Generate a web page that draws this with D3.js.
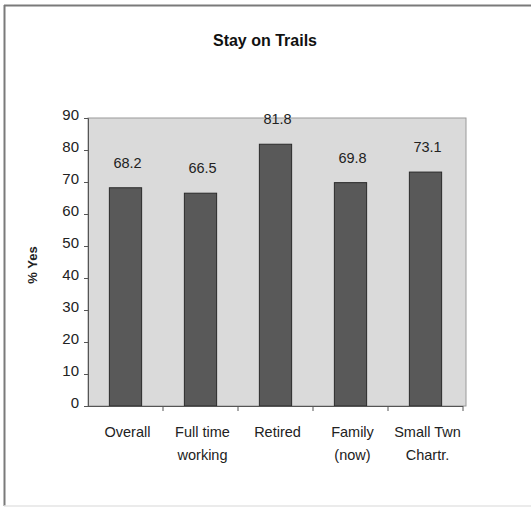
<!DOCTYPE html>
<html>
<head>
<meta charset="utf-8">
<script src="https://cdn.jsdelivr.net/npm/d3@7"></script>
<style>
  html, body { margin: 0; padding: 0; background: #fff; }
  svg { display: block; font-family: "Liberation Sans", Arial, sans-serif; }
</style>
</head>
<body>
<svg id="chart" width="531" height="508"></svg>
<script>
// Survey result: share answering "yes" to staying on trails, by group
const categories = [["Overall"], ["Full time", "working"], ["Retired"], ["Family", "(now)"], ["Small Twn", "Chartr."]];
const values = [68.2, 66.5, 81.8, 69.8, 73.1];
const yTicks = [0, 10, 20, 30, 40, 50, 60, 70, 80, 90];
const title = "Stay on Trails";
const yTitle = "% Yes";

const svg = d3.select("#chart");
const W = 531, H = 508;
const plot = { left: 88, right: 463, top: 118, bottom: 406 };

// outer frame
svg.append("rect").attr("x", 0).attr("y", 0).attr("width", W).attr("height", H).attr("fill", "#fff");
svg.append("line").attr("x1", 4).attr("x2", 531).attr("y1", 5.5).attr("y2", 5.5)
  .attr("stroke", "#7a7a7a").attr("stroke-width", 2);
svg.append("line").attr("x1", 4.5).attr("x2", 4.5).attr("y1", 5).attr("y2", 506)
  .attr("stroke", "#7a7a7a").attr("stroke-width", 2);
svg.append("line").attr("x1", 4).attr("x2", 531).attr("y1", 506).attr("y2", 506)
  .attr("stroke", "#e4e4e4").attr("stroke-width", 1.5);

const x = d3.scaleBand()
  .domain(categories.map((c, i) => i))
  .range([plot.left, plot.right])
  .paddingInner(0.57).paddingOuter(0.285);

const y = d3.scaleLinear().domain([0, 90]).range([plot.bottom, plot.top]);

// plot area
svg.append("rect")
  .attr("x", plot.left).attr("y", plot.top)
  .attr("width", plot.right - plot.left + 3).attr("height", plot.bottom - plot.top)
  .attr("fill", "#dadada").attr("stroke", "#9a9a9a").attr("stroke-width", 1);

// bars
svg.append("g").selectAll("rect").data(values).join("rect")
  .attr("x", (d, i) => x(i))
  .attr("y", d => y(d))
  .attr("width", x.bandwidth())
  .attr("height", d => y(0) - y(d))
  .attr("fill", "#595959")
  .attr("stroke", "#2a2a2a").attr("stroke-width", 1);

// value labels
svg.append("g").selectAll("text").data(values).join("text")
  .attr("x", (d, i) => x(i) + x.bandwidth() / 2 + 2)
  .attr("y", d => y(d) - 20)
  .attr("text-anchor", "middle")
  .attr("font-size", 14.5)
  .attr("fill", "#222")
  .text(d => d.toFixed(1));

// y axis
const yAxis = d3.axisLeft(y).tickValues(yTicks).tickSize(4).tickPadding(5).tickFormat(d3.format("d"));
const gy = svg.append("g").attr("transform", `translate(${plot.left},0)`).call(yAxis);
gy.select(".domain").attr("stroke", "#555");
gy.selectAll(".tick line").attr("stroke", "#555");
gy.selectAll(".tick text").attr("font-size", 15).attr("fill", "#222").attr("dy", "0.1em")
  .attr("font-family", "Liberation Sans, Arial, sans-serif");

// x axis with ticks between categories
const step = x.step();
const xEdges = d3.range(categories.length + 1).map(i => plot.left + i * step);
const gx = svg.append("g");
gx.append("line").attr("x1", plot.left - 4).attr("x2", plot.right).attr("y1", plot.bottom + 0.5).attr("y2", plot.bottom + 0.5)
  .attr("stroke", "#555").attr("stroke-width", 1.2);
gx.selectAll("line.tk").data(xEdges.slice(1)).join("line").attr("class", "tk")
  .attr("x1", d => d).attr("x2", d => d)
  .attr("y1", plot.bottom).attr("y2", plot.bottom + 5)
  .attr("stroke", "#555");

const catLabels = gx.selectAll("text").data(categories).join("text")
  .attr("text-anchor", "middle")
  .attr("font-size", 14.5)
  .attr("fill", "#222");
catLabels.each(function (lines, i) {
  const t = d3.select(this);
  lines.forEach((ln, j) => {
    t.append("tspan")
      .attr("x", x(i) + x.bandwidth() / 2 + 2)
      .attr("y", plot.bottom + 31 + j * 23)
      .text(ln);
  });
});

// title
svg.append("text")
  .attr("x", 265).attr("y", 46)
  .attr("text-anchor", "middle")
  .attr("font-size", 16).attr("font-weight", "bold").attr("fill", "#111")
  .text(title);

// y-axis title
svg.append("text")
  .attr("transform", `translate(37,${(plot.top + plot.bottom) / 2 + 3}) rotate(-90)`)
  .attr("text-anchor", "middle")
  .attr("font-size", 13).attr("font-weight", "bold").attr("fill", "#222")
  .text(yTitle);
</script>
</body>
</html>
